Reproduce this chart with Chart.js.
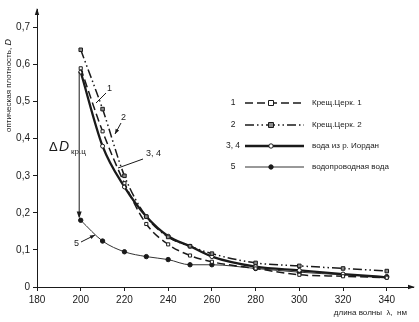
<!DOCTYPE html>
<html>
<head>
<meta charset="utf-8">
<script src="https://cdn.jsdelivr.net/npm/chart.js@4.4.1/dist/chart.umd.min.js"></script>
<style>
  html, body { margin: 0; padding: 0; background: #fff; }
  #wrap { width: 419px; height: 322px; position: relative; }
</style>
</head>
<body>
<div id="wrap"><canvas id="c" width="419" height="322"></canvas></div>
<script>
// wavelength, nm
const wavelengths = [200, 210, 220, 230, 240, 250, 260, 280, 300, 320, 340];
// optical density D
const kreshch1 = [0.59, 0.42, 0.28, 0.17, 0.115, 0.085, 0.068, 0.05, 0.033, 0.029, 0.025];
const kreshch2 = [0.64, 0.48, 0.30, 0.19, 0.135, 0.11, 0.09, 0.065, 0.057, 0.05, 0.043];
const jordan = [0.58, 0.38, 0.27, 0.19, 0.137, 0.11, 0.082, 0.055, 0.045, 0.035, 0.026];
const tapWater = [0.18, 0.124, 0.095, 0.082, 0.074, 0.06, 0.06, 0.05, 0.04, 0.033, 0.028];

const xTicks = [180, 200, 220, 240, 260, 280, 300, 320, 340];
const yTicks = [0, 0.1, 0.2, 0.3, 0.4, 0.5, 0.6, 0.7];

const seriesLabels = ['Крещ.Церк. 1', 'Крещ.Церк. 2', 'вода из р. Иордан', 'водопроводная вода'];
const seriesNumbers = ['1', '2', '3, 4', '5'];

const FONT = '"Liberation Sans", Arial, sans-serif';
const INK = '#1a1a1a';

function pts(ys) {
  return wavelengths.map((x, i) => ({ x: x, y: ys[i] }));
}

const dashes = [[8, 4], [9, 3, 1.5, 3, 1.5, 3], [], []];
const widths = [1.5, 1.5, 2.3, 1];
const lineColors = [INK, INK, INK, '#333'];
const pStyle = ['rect', 'rect', 'circle', 'circle'];
const pFill = ['#fff', '#8a8a8a', '#fff', INK];
const pRad = [2.2, 2.5, 2, 2.2];

const datasets = [kreshch1, kreshch2, jordan, tapWater].map((ys, i) => ({
  label: seriesLabels[i],
  data: pts(ys),
  borderColor: lineColors[i],
  borderWidth: widths[i],
  borderDash: dashes[i],
  cubicInterpolationMode: 'monotone',
  pointStyle: pStyle[i],
  pointRadius: pRad[i],
  pointBackgroundColor: pFill[i],
  pointBorderColor: INK,
  pointBorderWidth: 1,
  fill: false
}));

function fmt(v) {
  return v === 0 ? '0' : v.toFixed(1).replace('.', ',');
}

function arrowHead(ctx, x, y, angle, len, half) {
  ctx.save();
  ctx.translate(x, y);
  ctx.rotate(angle);
  ctx.beginPath();
  ctx.moveTo(0, 0);
  ctx.lineTo(-len, -half);
  ctx.lineTo(-len, half);
  ctx.closePath();
  ctx.fill();
  ctx.restore();
}

function leader(ctx, x1, y1, x2, y2, head) {
  ctx.beginPath();
  ctx.moveTo(x1, y1);
  ctx.lineTo(x2, y2);
  ctx.stroke();
  if (head) arrowHead(ctx, x2, y2, Math.atan2(y2 - y1, x2 - x1), 5, 2);
}

const extras = {
  id: 'extras',
  afterDraw(chart) {
    const ctx = chart.ctx;
    const xs = chart.scales.x, ys = chart.scales.y;
    const a = chart.chartArea;
    ctx.save();
    ctx.fillStyle = INK;
    ctx.strokeStyle = INK;
    ctx.lineWidth = 1;

    // axis arrows
    arrowHead(ctx, a.right + 2, a.bottom, 0, 7, 2.2);
    arrowHead(ctx, a.left, a.top - 1, -Math.PI / 2, 7, 2.2);

    // delta D arrow
    const dx = xs.getPixelForValue(199.3);
    ctx.beginPath();
    ctx.moveTo(dx, ys.getPixelForValue(0.58));
    ctx.lineTo(dx, ys.getPixelForValue(0.19));
    ctx.stroke();
    arrowHead(ctx, dx, ys.getPixelForValue(0.185), Math.PI / 2, 7, 2.5);

    ctx.textBaseline = 'alphabetic';
    ctx.textAlign = 'left';
    ctx.font = '13px ' + FONT;
    ctx.fillText('Δ', 49, 151);
    ctx.font = 'italic 14px ' + FONT;
    ctx.fillText('D', 59, 151);
    ctx.font = '8px ' + FONT;
    ctx.fillText('кр.ц', 71, 154);

    // curve labels
    ctx.font = '9px ' + FONT;
    ctx.fillText('1', 107, 91);
    leader(ctx, 106, 93, 96, 103, false);
    ctx.fillText('2', 121, 120);
    leader(ctx, 121, 123, 115, 134, true);
    ctx.fillText('3, 4', 146, 156);
    leader(ctx, 143, 159, 118, 168, false);
    ctx.fillText('5', 74, 246);
    leader(ctx, 81, 242, 95, 235, true);

    // legend
    const rowsY = [103, 125, 146, 167];
    rowsY.forEach((ry, i) => {
      ctx.font = '8.5px ' + FONT;
      ctx.textAlign = 'center';
      ctx.textBaseline = 'middle';
      ctx.fillText(seriesNumbers[i], 233, ry);
      ctx.save();
      ctx.strokeStyle = lineColors[i];
      ctx.lineWidth = widths[i];
      ctx.setLineDash(dashes[i]);
      ctx.beginPath();
      ctx.moveTo(245, ry);
      ctx.lineTo(304, ry);
      ctx.stroke();
      ctx.restore();
      ctx.fillStyle = pFill[i];
      ctx.beginPath();
      if (pStyle[i] === 'rect') {
        ctx.rect(268.5, ry - 2.5, 5, 5);
      } else {
        ctx.arc(271, ry, 2.2, 0, Math.PI * 2);
      }
      ctx.fill();
      ctx.stroke();
      ctx.fillStyle = INK;
      ctx.font = '8px ' + FONT;
      ctx.textAlign = 'left';
      ctx.fillText(seriesLabels[i], 312, ry);
    });

    // axis titles
    ctx.textBaseline = 'alphabetic';
    ctx.font = '8px ' + FONT;
    ctx.textAlign = 'right';
    ctx.fillText('длина волны  λ,  нм', 407, 315);

    ctx.save();
    ctx.translate(11, 132);
    ctx.rotate(-Math.PI / 2);
    ctx.textAlign = 'left';
    const t = 'оптическая плотность, ';
    ctx.fillText(t, 0, 0);
    const w = ctx.measureText(t).width;
    ctx.font = 'italic 9px ' + FONT;
    ctx.fillText('D', w, 0);
    ctx.restore();

    ctx.restore();
  }
};

new Chart(document.getElementById('c'), {
  type: 'line',
  data: { datasets: datasets },
  plugins: [extras],
  options: {
    responsive: false,
    animation: false,
    layout: { padding: { left: 0, right: 6, top: 3, bottom: 0 } },
    plugins: { legend: { display: false }, tooltip: { enabled: false } },
    scales: {
      x: {
        type: 'linear',
        min: 180,
        max: 352,
        afterBuildTicks: s => { s.ticks = xTicks.map(v => ({ value: v })); },
        afterFit: s => { s.height = 35; },
        grid: { drawOnChartArea: false, drawTicks: true, tickLength: 4, color: INK },
        border: { display: true, color: INK, width: 1 },
        ticks: { color: INK, font: { family: FONT, size: 10 }, padding: 3, maxRotation: 0 }
      },
      y: {
        min: 0,
        max: 0.75,
        afterBuildTicks: s => { s.ticks = yTicks.map(v => ({ value: v })); },
        afterFit: s => { s.width = 37; },
        grid: { drawOnChartArea: false, drawTicks: true, tickLength: 4, color: INK },
        border: { display: true, color: INK, width: 1 },
        ticks: { color: INK, font: { family: FONT, size: 10 }, padding: 3, callback: v => fmt(v) }
      }
    }
  }
});
</script>
</body>
</html>
